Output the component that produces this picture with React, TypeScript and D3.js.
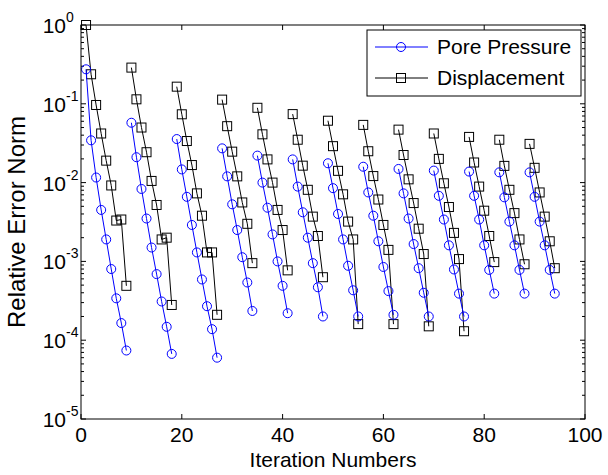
import React from "react"
import * as d3 from "d3"

// iteration at which each outer cycle starts
const groupStart = [1, 10, 19, 28, 35, 42, 49, 56, 63, 70, 77, 83, 89]

const porePressure = [
    [0.274, 0.0344, 0.0116, 0.0045, 0.0019, 8.0e-4, 3.4e-4, 1.65e-4, 7.4e-5],
    [0.0575, 0.021, 0.0083, 0.0035, 0.0015, 6.9e-4, 3.1e-4, 1.48e-4, 6.7e-5],
    [0.0357, 0.0147, 0.0066, 0.0029, 0.0013, 5.9e-4, 2.7e-4, 1.38e-4, 6.0e-5],
    [0.0272, 0.012, 0.0053, 0.0025, 0.00113, 5.4e-4, 2.35e-4],
    [0.022, 0.01, 0.0048, 0.0022, 0.001, 4.9e-4, 2.2e-4],
    [0.0197, 0.0089, 0.0042, 0.002, 9.5e-4, 4.7e-4, 2.0e-4],
    [0.0176, 0.0085, 0.004, 0.0019, 8.8e-4, 4.3e-4, 2.0e-4],
    [0.0159, 0.0075, 0.0038, 0.0018, 8.5e-4, 4.2e-4, 2.1e-4],
    [0.0149, 0.0073, 0.0035, 0.00166, 8.2e-4, 4.0e-4, 2.0e-4],
    [0.0142, 0.0068, 0.0034, 0.0016, 7.9e-4, 3.9e-4, 2.0e-4],
    [0.0138, 0.0068, 0.0034, 0.0016, 7.8e-4, 3.9e-4],
    [0.0135, 0.0065, 0.0032, 0.0016, 7.8e-4, 3.9e-4],
    [0.0135, 0.0066, 0.0032, 0.0016, 7.8e-4, 3.9e-4],
]

const displacement = [
    [1.0, 0.237, 0.0966, 0.042, 0.019, 0.0092, 0.0033, 0.0034, 4.9e-4],
    [0.288, 0.114, 0.05, 0.0243, 0.0105, 0.0052, 0.0019, 0.002, 2.8e-4],
    [0.165, 0.0736, 0.0337, 0.0167, 0.0073, 0.0038, 0.0013, 0.0013, 2.1e-4],
    [0.113, 0.052, 0.0247, 0.012, 0.0056, 0.003, 9.5e-4],
    [0.089, 0.041, 0.0197, 0.01, 0.0045, 0.0025, 7.7e-4],
    [0.074, 0.035, 0.0164, 0.0081, 0.0037, 0.0021, 6.3e-4],
    [0.061, 0.029, 0.0141, 0.0071, 0.0032, 0.0019, 1.6e-4],
    [0.054, 0.025, 0.0121, 0.0061, 0.0029, 0.0014, 1.6e-4],
    [0.047, 0.0224, 0.011, 0.0055, 0.0026, 0.00124, 1.5e-4],
    [0.042, 0.02, 0.0098, 0.0049, 0.0023, 0.00107, 1.3e-4],
    [0.038, 0.018, 0.0089, 0.0044, 0.0021, 9.8e-4],
    [0.035, 0.0163, 0.0081, 0.0041, 0.0019, 9.2e-4],
    [0.031, 0.0154, 0.0075, 0.0037, 0.0018, 8.2e-4],
]

const xTicks = [0, 20, 40, 60, 80, 100]
const yExponents = [0, -1, -2, -3, -4, -5]
const seriesNames = ["Pore Pressure", "Displacement"]

const W = 608
const H = 475
const left = 81
const right = 585
const top = 25
const bottom = 419
const font = "'Liberation Sans', Arial, Helvetica, sans-serif"

const x = d3.scaleLinear().domain([0, 100]).range([left, right])
const y = d3.scaleLog().domain([1e-5, 1]).range([bottom, top])

const toPoints = (groups: number[][]) =>
    groups.map((g, gi) => g.map((v, i) => [groupStart[gi] + i, v] as [number, number]))

const line = d3.line<[number, number]>()
    .x(d => x(d[0]))
    .y(d => y(d[1]))

const Circle = ({ cx, cy }: { cx: number, cy: number }) =>
    <circle cx={cx} cy={cy} r={4.5} fill="none" stroke="#0000ff" strokeWidth={1} />

const Square = ({ cx, cy }: { cx: number, cy: number }) =>
    <rect x={cx - 4.5} y={cy - 4.5} width={9} height={9} fill="none" stroke="#000" strokeWidth={1} />

export default function App() {
    const pp = toPoints(porePressure)
    const dp = toPoints(displacement)

    const minor: number[] = []
    for (let e = -5; e < 0; e++) {
        for (let k = 2; k < 10; k++) minor.push(k * Math.pow(10, e))
    }

    return (
        <svg width={W} height={H} style={{ position: "absolute", left: 0, top: 0, background: "#fff" }}>
            <rect x={0} y={0} width={W} height={H} fill="#fff" />

            {/* ticks */}
            <g stroke="#000" strokeWidth={1}>
                {xTicks.map(t => (
                    <g key={"xt" + t}>
                        <line x1={x(t)} x2={x(t)} y1={bottom} y2={bottom - 5} />
                        <line x1={x(t)} x2={x(t)} y1={top} y2={top + 5} />
                    </g>
                ))}
                {yExponents.map(e => (
                    <g key={"yt" + e}>
                        <line x1={left} x2={left + 5} y1={y(Math.pow(10, e))} y2={y(Math.pow(10, e))} />
                        <line x1={right} x2={right - 5} y1={y(Math.pow(10, e))} y2={y(Math.pow(10, e))} />
                    </g>
                ))}
                {minor.map(m => (
                    <g key={"ym" + m}>
                        <line x1={left} x2={left + 3} y1={y(m)} y2={y(m)} />
                        <line x1={right} x2={right - 3} y1={y(m)} y2={y(m)} />
                    </g>
                ))}
            </g>

            {/* series */}
            {dp.map((g, i) => (
                <g key={"d" + i}>
                    <path d={line(g) || ""} fill="none" stroke="#000" strokeWidth={1} />
                    {g.map((d, j) => <Square key={j} cx={x(d[0])} cy={y(d[1])} />)}
                </g>
            ))}
            {pp.map((g, i) => (
                <g key={"p" + i}>
                    <path d={line(g) || ""} fill="none" stroke="#0000ff" strokeWidth={1} />
                    {g.map((d, j) => <Circle key={j} cx={x(d[0])} cy={y(d[1])} />)}
                </g>
            ))}

            {/* frame */}
            <rect x={left} y={top} width={right - left} height={bottom - top} fill="none" stroke="#000" strokeWidth={1} />

            {/* tick labels */}
            <g fontFamily={font} fontSize={21} fill="#000">
                {xTicks.map(t => (
                    <text key={"xl" + t} x={x(t)} y={442} textAnchor="middle">{t}</text>
                ))}
                {yExponents.map(e => (
                    <text key={"yl" + e} x={66} y={y(Math.pow(10, e)) + 8} textAnchor="end">10</text>
                ))}
                {yExponents.map(e => (
                    <text key={"ye" + e} x={66} y={y(Math.pow(10, e)) - 3} fontSize={14} textAnchor="start">{e}</text>
                ))}
                <text x={(left + right) / 2} y={467} textAnchor="middle">Iteration Numbers</text>
                <text transform={`translate(25,${(top + bottom) / 2}) rotate(-90)`} textAnchor="middle" fontSize={24}>Relative Error Norm</text>
            </g>

            {/* legend */}
            <g>
                <rect x={367} y={30} width={214} height={66} fill="#fff" stroke="#000" strokeWidth={1} />
                <line x1={375} x2={428} y1={47} y2={47} stroke="#0000ff" />
                <Circle cx={401} cy={47} />
                <line x1={375} x2={428} y1={78} y2={78} stroke="#000" />
                <Square cx={401} cy={78} />
                <text x={437} y={54} fontFamily={font} fontSize={21}>{seriesNames[0]}</text>
                <text x={437} y={85} fontFamily={font} fontSize={21}>{seriesNames[1]}</text>
            </g>
        </svg>
    )
}
